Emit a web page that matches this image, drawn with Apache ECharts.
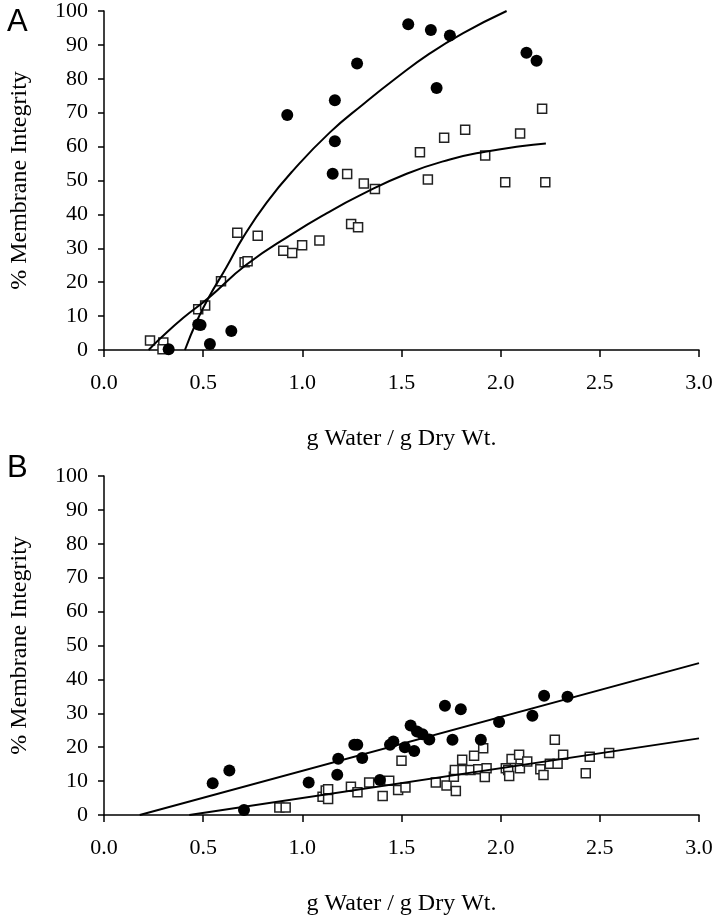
<!DOCTYPE html>
<html>
<head>
<meta charset="utf-8">
<script src="https://cdn.jsdelivr.net/npm/echarts@6/dist/echarts.min.js"></script>
<style>
  html, body { margin: 0; padding: 0; background: #fff; }
  #chart { width: 716px; height: 918px; }
</style>
</head>
<body>
<div id="chart"></div>
<script>
// panel A: open squares and filled circles, with the two fitted curves
const aSquares = [
  [0.232, 2.8], [0.299, 2.2], [0.295, 0.2], [0.475, 12.0], [0.510, 13.1],
  [0.590, 20.3], [0.672, 34.6], [0.709, 25.9], [0.724, 26.2], [0.775, 33.7],
  [0.904, 29.3], [0.949, 28.6], [0.999, 30.9], [1.086, 32.3], [1.226, 51.9],
  [1.246, 37.2], [1.281, 36.2], [1.310, 49.1], [1.366, 47.5], [1.593, 58.3],
  [1.633, 50.3], [1.715, 62.6], [1.821, 65.0], [1.922, 57.4], [2.023, 49.5],
  [2.098, 63.9], [2.209, 71.2], [2.225, 49.5]
];
const aCircles = [
  [0.326, 0.2], [0.475, 7.5], [0.487, 7.4], [0.534, 1.8], [0.642, 5.6],
  [0.924, 69.3], [1.153, 52.0], [1.164, 61.6], [1.164, 73.7], [1.276, 84.5],
  [1.534, 96.1], [1.648, 94.4], [1.677, 77.3], [1.744, 92.8], [2.130, 87.7],
  [2.181, 85.3]
];
const aSquareCurve = [
  [0.225, 0], [0.282, 3.3], [0.40, 9.5], [0.526, 15.3], [0.719, 25.2],
  [0.954, 34.4], [1.122, 40.3], [1.29, 45.6], [1.526, 52.0], [1.744, 56.2],
  [1.922, 58.5], [2.10, 60.1], [2.228, 60.9]
];
const aCircleCurve = [
  [0.408, 0], [0.467, 8.4], [0.526, 15.3], [0.618, 24.5], [0.702, 33.3],
  [0.82, 43.5], [0.954, 53.0], [1.139, 64.2], [1.307, 72.5], [1.475, 80.3],
  [1.643, 87.5], [1.811, 93.5], [2.03, 100]
];

// panel B
const bSquares = [
  [0.884, 2.2], [0.916, 2.2], [1.102, 5.4], [1.118, 7.2], [1.130, 7.6],
  [1.130, 4.7], [1.245, 8.3], [1.278, 6.7], [1.337, 9.6], [1.405, 5.6],
  [1.438, 10.1], [1.483, 7.4], [1.500, 16.0], [1.520, 8.1], [1.673, 9.6],
  [1.727, 8.7], [1.774, 7.1], [1.764, 11.3], [1.769, 13.3], [1.806, 16.3],
  [1.808, 13.3], [1.848, 13.3], [1.866, 17.5], [1.912, 19.7], [1.887, 13.5],
  [1.929, 13.8], [1.920, 11.2], [2.026, 13.8], [2.038, 13.3], [2.043, 11.5],
  [2.055, 16.5], [2.093, 17.8], [2.097, 13.8], [2.134, 15.8], [2.200, 13.5],
  [2.216, 11.8], [2.248, 15.1], [2.287, 15.1], [2.315, 17.8], [2.273, 22.2],
  [2.429, 12.3], [2.449, 17.2], [2.547, 18.3]
];
const bCircles = [
  [0.548, 9.4], [0.632, 13.1], [0.706, 1.5], [1.032, 9.6], [1.176, 11.9],
  [1.181, 16.6], [1.262, 20.7], [1.277, 20.7], [1.302, 16.8], [1.391, 10.3],
  [1.442, 20.7], [1.459, 21.7], [1.517, 20.0], [1.546, 26.4], [1.564, 18.9],
  [1.578, 24.6], [1.606, 23.8], [1.640, 22.3], [1.719, 32.2], [1.757, 22.2],
  [1.799, 31.2], [1.900, 22.2], [1.992, 27.4], [2.160, 29.3], [2.219, 35.2],
  [2.337, 34.9]
];
const bCircleLine = [[0.18, 0], [3.0, 44.8]];
const bSquareLine = [[0.43, 0], [3.0, 22.6]];

const xTicks = [0, 0.5, 1, 1.5, 2, 2.5, 3];
const yTicks = [0, 10, 20, 30, 40, 50, 60, 70, 80, 90, 100];

const serif = 'Liberation Serif';
const ink = '#000';

function xAxis(gridIndex) {
  return {
    type: 'value', gridIndex: gridIndex,
    min: xTicks[0], max: xTicks[xTicks.length - 1], interval: 0.5,
    name: 'g Water / g Dry Wt.', nameLocation: 'middle', nameGap: 77,
    nameTextStyle: { fontFamily: serif, fontSize: 24, color: ink },
    axisLine: { lineStyle: { color: ink, width: 1.5 } },
    axisTick: { show: true, inside: false, length: 7, lineStyle: { color: ink, width: 1.5 } },
    axisLabel: { fontFamily: serif, fontSize: 22, color: ink, margin: 22,
      formatter: v => v.toFixed(1) },
    splitLine: { show: false }
  };
}
function yAxis(gridIndex) {
  return {
    type: 'value', gridIndex: gridIndex,
    min: yTicks[0], max: yTicks[yTicks.length - 1], interval: 10,
    name: '% Membrane Integrity', nameLocation: 'middle', nameGap: 72,
    nameTextStyle: { fontFamily: serif, fontSize: 24, color: ink },
    axisLine: { show: true, lineStyle: { color: ink, width: 1.5 } },
    axisTick: { show: true, inside: false, length: 6, lineStyle: { color: ink, width: 1.5 } },
    axisLabel: { fontFamily: serif, fontSize: 22, color: ink, margin: 16 },
    splitLine: { show: false }
  };
}

function squares(data, idx) {
  return {
    type: 'scatter', xAxisIndex: idx, yAxisIndex: idx, data: data,
    symbol: 'rect', symbolSize: 9,
    itemStyle: { color: '#fff', borderColor: '#222', borderWidth: 1.5, opacity: 1 },
    silent: true, z: 2
  };
}
function circles(data, idx) {
  return {
    type: 'scatter', xAxisIndex: idx, yAxisIndex: idx, data: data,
    symbol: 'circle', symbolSize: 12,
    itemStyle: { color: ink, opacity: 1 },
    silent: true, z: 3
  };
}
function curve(data, idx, smooth) {
  return {
    type: 'line', xAxisIndex: idx, yAxisIndex: idx, data: data,
    smooth: smooth, showSymbol: false,
    lineStyle: { color: ink, width: 2 },
    silent: true, z: 4
  };
}

const chart = echarts.init(document.getElementById('chart'));
chart.setOption({
  animation: false,
  backgroundColor: '#fff',
  title: [
    { text: 'A', left: 2, top: 2, textStyle: { fontFamily: 'Liberation Sans', fontSize: 31, fontWeight: 'normal', color: ink } },
    { text: 'B', left: 2, top: 448, textStyle: { fontFamily: 'Liberation Sans', fontSize: 31, fontWeight: 'normal', color: ink } }
  ],
  grid: [
    { left: 104, right: 17, top: 11, height: 339 },
    { left: 104, right: 17, top: 476, height: 339 }
  ],
  xAxis: [xAxis(0), xAxis(1)],
  yAxis: [yAxis(0), yAxis(1)],
  series: [
    squares(aSquares, 0),
    circles(aCircles, 0),
    curve(aSquareCurve, 0, true),
    curve(aCircleCurve, 0, true),
    squares(bSquares, 1),
    circles(bCircles, 1),
    curve(bCircleLine, 1, false),
    curve(bSquareLine, 1, false)
  ]
});
</script>
</body>
</html>
